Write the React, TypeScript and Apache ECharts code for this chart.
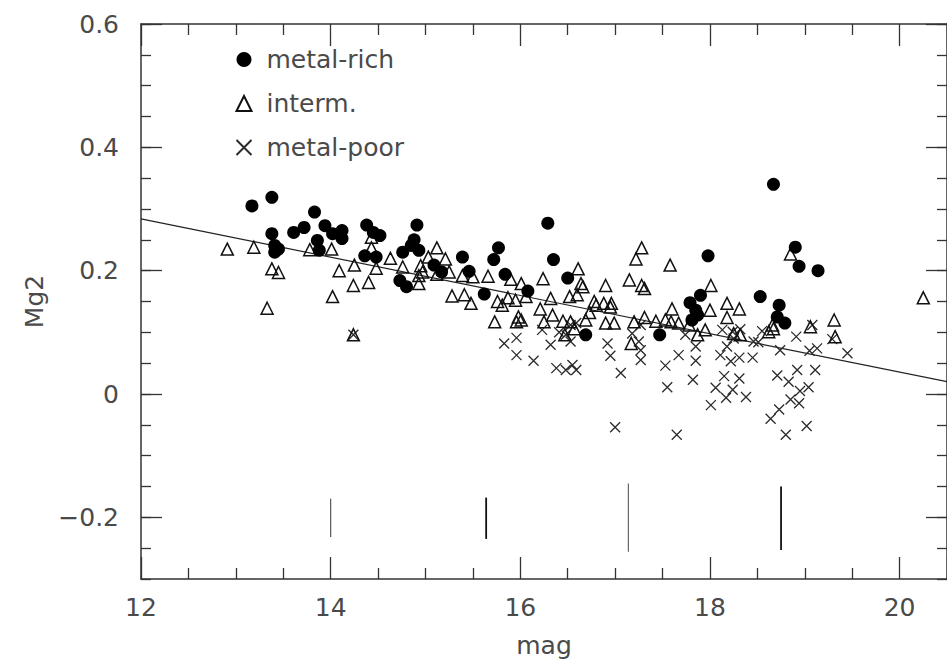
import React, { useEffect, useRef } from "react";
import * as echarts from "echarts";

// ---- data (mag, Mg2) ----
const metalRich: number[][] = [
  [13.17, 0.305], [13.38, 0.319], [13.38, 0.26], [13.41, 0.241], [13.45, 0.235], [13.41, 0.23],
  [13.61, 0.262], [13.72, 0.27], [13.83, 0.295], [13.94, 0.273], [13.86, 0.249], [13.88, 0.233],
  [14.02, 0.26], [14.12, 0.265], [14.12, 0.252], [14.38, 0.274], [14.45, 0.262], [14.52, 0.257],
  [14.36, 0.224], [14.48, 0.222], [14.91, 0.274], [14.88, 0.25], [14.85, 0.241], [14.93, 0.233],
  [14.76, 0.23], [14.73, 0.184], [14.8, 0.174], [15.09, 0.209], [15.17, 0.198], [15.39, 0.222],
  [15.46, 0.199], [15.77, 0.237], [15.72, 0.218], [15.84, 0.194], [15.62, 0.162], [16.08, 0.167],
  [16.29, 0.277], [16.35, 0.218], [16.5, 0.188], [16.69, 0.096], [17.47, 0.096], [17.98, 0.224],
  [17.9, 0.16], [17.79, 0.148], [17.85, 0.136], [17.87, 0.128], [17.81, 0.12], [18.67, 0.34],
  [18.9, 0.238], [18.94, 0.207], [19.14, 0.2], [18.53, 0.158], [18.73, 0.144], [18.71, 0.125],
  [18.79, 0.115],
];

const intermediate: number[][] = [
  [12.91, 0.235], [13.19, 0.238], [13.38, 0.203], [13.45, 0.197], [13.33, 0.139], [13.78, 0.234],
  [14.01, 0.235], [14.09, 0.2], [14.25, 0.209], [14.24, 0.176], [14.4, 0.181], [14.43, 0.237],
  [14.43, 0.254], [14.48, 0.204], [14.02, 0.158], [14.63, 0.22], [14.76, 0.206], [14.95, 0.208],
  [14.93, 0.192], [14.93, 0.179], [14.97, 0.198], [15.03, 0.222], [15.12, 0.237], [15.21, 0.219],
  [15.25, 0.198], [15.12, 0.194], [15.28, 0.159], [14.24, 0.096], [15.39, 0.192], [15.5, 0.19],
  [15.41, 0.161], [15.48, 0.147], [15.66, 0.191], [15.9, 0.186], [16.01, 0.179], [15.73, 0.117],
  [15.76, 0.15], [15.81, 0.144], [15.87, 0.156], [15.95, 0.152], [15.98, 0.125], [16.01, 0.12],
  [15.96, 0.117], [16.06, 0.158], [16.24, 0.187], [16.21, 0.138], [16.32, 0.155], [16.25, 0.117],
  [16.34, 0.128], [16.45, 0.118], [16.53, 0.117], [16.57, 0.106], [16.47, 0.096], [16.61, 0.203],
  [16.64, 0.179], [16.66, 0.174], [16.52, 0.158], [16.6, 0.161], [16.69, 0.12], [16.73, 0.132],
  [16.78, 0.15], [16.8, 0.144], [16.88, 0.147], [16.96, 0.147], [16.95, 0.141], [16.9, 0.176],
  [16.9, 0.115], [16.99, 0.115], [17.15, 0.185], [17.28, 0.237], [17.22, 0.219], [17.28, 0.176],
  [17.31, 0.171], [17.2, 0.117], [17.31, 0.124], [17.17, 0.082], [17.43, 0.118], [17.53, 0.12],
  [17.59, 0.117], [17.67, 0.115], [17.58, 0.209], [17.6, 0.138], [17.78, 0.112], [17.87, 0.096],
  [17.95, 0.104], [18.01, 0.176], [18.0, 0.136], [18.85, 0.227], [18.18, 0.147], [18.31, 0.138],
  [18.18, 0.124], [18.25, 0.098], [18.32, 0.096], [18.62, 0.101], [18.67, 0.106], [18.66, 0.112],
  [19.06, 0.109], [19.31, 0.12], [19.32, 0.093], [20.25, 0.156],
];

const metalPoor: number[][] = [
  [14.24, 0.096], [15.83, 0.082], [15.96, 0.091], [15.96, 0.063], [16.14, 0.054], [16.23, 0.104],
  [16.32, 0.08], [16.38, 0.042], [16.48, 0.039], [16.55, 0.047], [16.59, 0.039], [16.41, 0.1],
  [16.48, 0.096], [16.53, 0.085], [16.59, 0.115], [16.53, 0.112], [16.92, 0.082], [16.95, 0.062],
  [17.06, 0.034], [17.18, 0.098], [17.25, 0.085], [17.27, 0.071], [17.27, 0.055], [17.27, 0.112],
  [17.53, 0.046], [17.55, 0.011], [17.67, 0.063], [17.74, 0.096], [17.85, 0.077], [17.85, 0.054],
  [17.82, 0.023], [18.01, -0.018], [18.06, 0.01], [17.0, -0.054], [17.65, -0.066], [18.13, 0.104],
  [18.24, 0.101], [18.32, 0.105], [18.25, 0.09], [18.18, 0.077], [18.46, 0.085], [18.51, 0.084],
  [18.55, 0.102], [18.45, 0.059], [18.31, 0.059], [18.22, 0.053], [18.15, 0.029], [18.31, 0.025],
  [18.24, 0.007], [18.17, -0.006], [18.38, -0.005], [18.74, 0.071], [18.91, 0.093], [18.71, 0.03],
  [18.92, 0.039], [18.83, 0.02], [18.95, 0.005], [18.85, -0.009], [18.94, -0.015], [19.04, 0.011],
  [19.11, 0.039], [19.05, 0.07], [19.13, 0.074], [18.73, -0.025], [18.64, -0.04], [19.02, -0.052],
  [18.8, -0.066], [19.29, 0.089], [19.45, 0.066], [19.08, 0.112], [18.11, 0.063],
];

// linear fit line
const fitMag = [12, 20.5];
const fitMg2 = [0.284, 0.02];

// representative error bars: [mag, low, high]
const errorBars: number[][] = [
  [14.0, -0.232, -0.17],
  [15.64, -0.235, -0.168],
  [17.14, -0.256, -0.145],
  [18.75, -0.253, -0.15],
];
const errorBarWidths = [1.2, 1.8, 1.2, 1.8];
const errorBarColors = ["#555", "#111", "#666", "#111"];

const yMajorTicks = [-0.2, 0, 0.2, 0.4, 0.6];
const xMin = 12;
const xMax = 20.5;
const yMin = -0.3;
const yMax = 0.6;

const FONT = "DejaVu Sans";
const TXT = "#4a4a4a";
const AX = "#333";

export default function App() {
  const ref = useRef<HTMLDivElement>(null);

  useEffect(() => {
    if (!ref.current) return;
    const chart = echarts.init(ref.current, undefined, { renderer: "svg" });

    const axisBase = {
      type: "value" as const,
      splitLine: { show: false },
    };

    const option: any = {
      animation: false,
      backgroundColor: "#fff",
      grid: { left: 141, top: 24, width: 807.5, height: 558, containLabel: false },
      legend: {
        orient: "vertical",
        left: 229,
        top: 42,
        itemWidth: 15,
        itemHeight: 15,
        itemGap: 19,
        textStyle: { fontFamily: FONT, fontSize: 25, color: TXT, padding: [0, 0, 0, 10] },
        data: ["metal-rich", "interm.", "metal-poor"],
      },
      xAxis: [
        {
          ...axisBase,
          min: xMin,
          max: xMax,
          interval: 2,
          position: "bottom",
          axisLine: { show: true, onZero: false, lineStyle: { color: AX, width: 1.5 } },
          axisTick: { show: true, inside: true, length: 22, lineStyle: { color: AX, width: 1.3 } },
          minorTick: { show: true, splitNumber: 4, length: 11, lineStyle: { color: AX, width: 1.3 } },
          axisLabel: {
            margin: 16,
            fontFamily: FONT,
            fontSize: 25,
            color: TXT,
            showMaxLabel: false,
            formatter: (v: number) => String(v),
          },
          name: "mag",
          nameLocation: "middle",
          nameGap: 54,
          nameTextStyle: { fontFamily: FONT, fontSize: 25, color: TXT },
        },
        {
          ...axisBase,
          min: xMin,
          max: xMax,
          interval: 2,
          position: "top",
          axisLine: { show: true, onZero: false, lineStyle: { color: AX, width: 1.5 } },
          axisTick: { show: true, inside: true, length: 22, lineStyle: { color: AX, width: 1.3 } },
          minorTick: { show: true, splitNumber: 4, length: 11, lineStyle: { color: AX, width: 1.3 } },
          axisLabel: { show: false },
        },
      ],
      yAxis: [
        {
          ...axisBase,
          min: yMin,
          max: yMax,
          position: "left",
          axisLine: { show: true, onZero: false, lineStyle: { color: AX, width: 1.5 } },
          axisTick: {
            show: true,
            inside: true,
            length: 21,
            customValues: yMajorTicks,
            lineStyle: { color: AX, width: 1.3 },
          },
          axisLabel: {
            margin: 22,
            fontFamily: FONT,
            fontSize: 25,
            color: TXT,
            customValues: yMajorTicks,
            formatter: (v: number) => (Math.abs(v) < 1e-9 ? "0" : v < 0 ? "\u2212" + Math.abs(v).toFixed(1) : v.toFixed(1)),
          },
          name: "Mg2",
          nameLocation: "middle",
          nameGap: 92,
          nameTextStyle: { fontFamily: FONT, fontSize: 25, color: TXT },
        },
        {
          ...axisBase,
          min: yMin,
          max: yMax,
          interval: 0.05,
          position: "left",
          axisLine: { show: false },
          axisTick: { show: true, inside: true, length: 10, lineStyle: { color: AX, width: 1.3 } },
          axisLabel: { show: false },
        },
        {
          ...axisBase,
          min: yMin,
          max: yMax,
          position: "right",
          axisLine: { show: true, onZero: false, lineStyle: { color: AX, width: 1.5 } },
          axisTick: {
            show: true,
            inside: true,
            length: 21,
            customValues: yMajorTicks,
            lineStyle: { color: AX, width: 1.3 },
          },
          axisLabel: { show: false },
        },
        {
          ...axisBase,
          min: yMin,
          max: yMax,
          interval: 0.05,
          position: "right",
          axisLine: { show: false },
          axisTick: { show: true, inside: true, length: 10, lineStyle: { color: AX, width: 1.3 } },
          axisLabel: { show: false },
        },
      ],
      series: [
        {
          name: "fit",
          type: "line",
          xAxisIndex: 0,
          yAxisIndex: 0,
          data: fitMag.map((m, i) => [m, fitMg2[i]]),
          showSymbol: false,
          symbol: "none",
          lineStyle: { color: "#222", width: 1.2 },
          silent: true,
          z: 1,
        },
        {
          name: "errors",
          type: "custom",
          xAxisIndex: 0,
          yAxisIndex: 0,
          data: errorBars,
          renderItem: (params: any, api: any) => {
            const x = api.value(0);
            const p1 = api.coord([x, api.value(1)]);
            const p2 = api.coord([x, api.value(2)]);
            return {
              type: "line",
              shape: { x1: p1[0], y1: p1[1], x2: p2[0], y2: p2[1] },
              style: {
                stroke: errorBarColors[params.dataIndex],
                lineWidth: errorBarWidths[params.dataIndex],
              },
            };
          },
          silent: true,
        },
        {
          name: "metal-poor",
          type: "scatter",
          xAxisIndex: 0,
          yAxisIndex: 0,
          data: metalPoor,
          symbol: "path://M0,0L10,10M10,0L0,10",
          symbolSize: 10,
          itemStyle: { color: "none", borderColor: "#2a2a2a", borderWidth: 1.3, opacity: 1 },
          z: 2,
        },
        {
          name: "interm.",
          type: "scatter",
          xAxisIndex: 0,
          yAxisIndex: 0,
          data: intermediate,
          symbol: "triangle",
          symbolSize: 12,
          itemStyle: { color: "none", borderColor: "#111", borderWidth: 1.5, opacity: 1 },
          z: 3,
        },
        {
          name: "metal-rich",
          type: "scatter",
          xAxisIndex: 0,
          yAxisIndex: 0,
          data: metalRich,
          symbol: "circle",
          symbolSize: 13,
          itemStyle: { color: "#000", opacity: 1 },
          z: 4,
        },
      ],
    };

    chart.setOption(option);
    return () => chart.dispose();
  }, []);

  return (
    <div
      ref={ref}
      style={{ position: "fixed", left: 0, top: 0, width: 947, height: 663, background: "#fff" }}
    />
  );
}
